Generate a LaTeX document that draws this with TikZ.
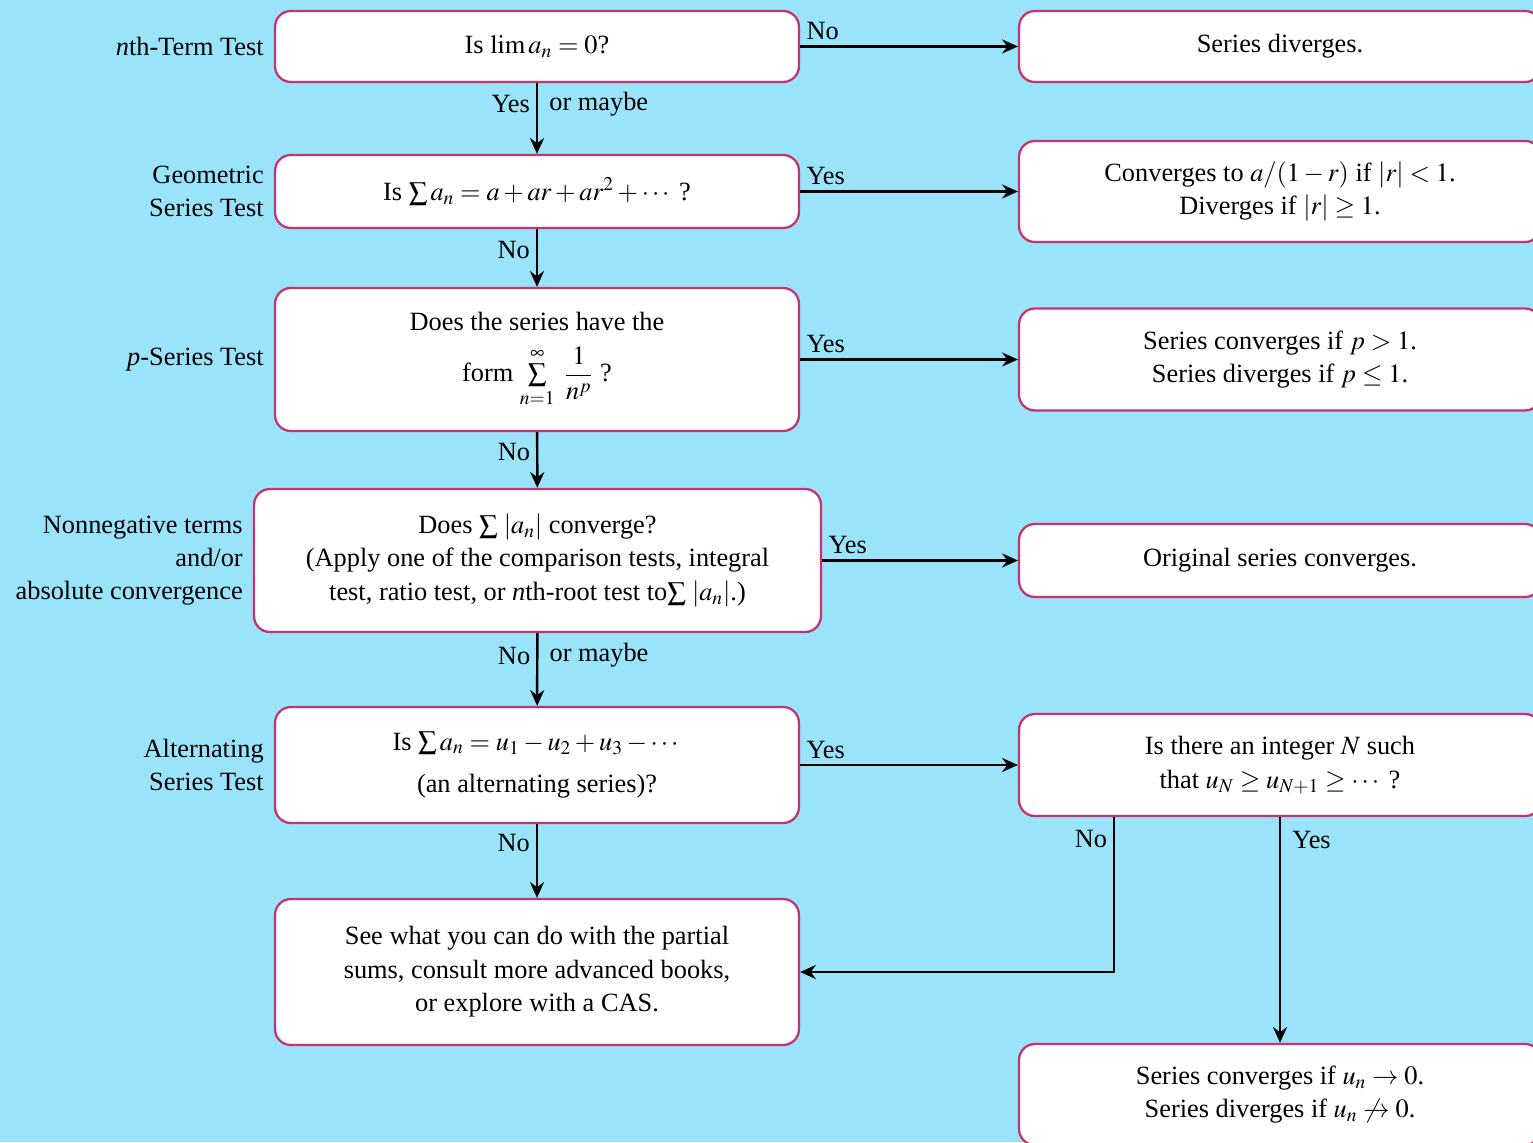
\documentclass[tikz,border=0pt]{standalone}
\usepackage{amsmath}
\usepackage{mathptmx}
\usepackage{fontspec}
\setmainfont{Liberation Serif}
\usetikzlibrary{arrows.meta}
\usetikzlibrary{positioning}
\definecolor{skyback}{HTML}{9AE4FB}
\definecolor{boxline}{HTML}{C8336E}

\begin{document}
\begin{tikzpicture}[x=0.02cm,y=-0.02cm,
	every node/.style={font=\fontsize{15}{19}\selectfont},
	test/.style={draw=boxline,line width=1.3pt,fill=white,rounded corners=9pt,align=center,inner sep=0pt},
	main/.style={test,minimum width=10.48cm},
	result/.style={test,minimum width=10.44cm},
	side/.style={align=right,left=0.08cm of #1},
	flow/.style={-{Stealth[length=9pt,width=8pt]},line width=1.4pt}]
\useasboundingbox (0,0) rectangle (1533,1142);
\fill[skyback] (0,0) rectangle (1533,1142);

% tests down the middle
\node[main,minimum height=1.42cm] (lim) at (537,46.5) {Is $\lim a_n = 0$?};
\node[main,minimum height=1.46cm] (geo) at (537,191.5) {Is $\sum a_n = a + ar + ar^2 + \cdots$ ?};
\node[main,minimum height=2.86cm] (pser) at (537,359.5) {Does the series have the\\[8pt]
	form $\sum\limits_{n=1}^{\infty}\ \dfrac{1}{n^p}$ ?};
\node[test,minimum width=11.34cm,minimum height=2.86cm] (abs) at (537.5,560.5) {Does $\sum\,|a_n|$ converge?\\
	(Apply one of the comparison tests, integral\\
	test, ratio test, or \textit{n}th-root test to$\sum\,|a_n|$.)};
\node[main,minimum height=2.32cm] (alt) at (537,765) {Is $\sum a_n = u_1 - u_2 + u_3 - \cdots$\\[5pt]
	(an alternating series)?};
\node[main,minimum height=2.92cm] (cas) at (537,972) {See what you can do with the partial\\
	sums, consult more advanced books,\\
	or explore with a CAS.};

% names of the tests
\node[side=lim] (limlab) {\textit{n}th-Term Test};
\node[side=geo] (geolab) {Geometric\\Series Test};
\node[side=pser] (pserlab) {\textit{p}-Series Test};
\node[side=abs] (abslab) {Nonnegative terms\\and/or\\absolute convergence};
\node[side=alt] (altlab) {Alternating\\Series Test};

% outcomes on the right
\node[result,minimum height=1.42cm] (div) at (1280,46.5) {Series diverges.};
\node[result,minimum height=2.02cm] (geores) at (1280,191.5) {Converges to $a/(1-r)$ if $|r|<1$.\\
	Diverges if $|r|\geq 1$.};
\node[result,minimum height=2.04cm] (pres) at (1280,359.5) {Series converges if $p>1$.\\
	Series diverges if $p\leq 1$.};
\node[result,minimum height=1.46cm] (absres) at (1280,560.5) {Original series converges.};
\node[result,minimum height=2.04cm] (mono) at (1280,765) {Is there an integer $N$ such\\
	that $u_N \geq u_{N+1} \geq \cdots$ ?};
\node[result,minimum height=2.02cm] (altres) at (1280,1094.5) {Series converges if $u_n \to 0$.\\
	Series diverges if $u_n \not\to 0$.};

\draw[flow] (lim) -- node[pos=0,anchor=south west,inner sep=3pt] {No} (div);
\draw[flow] (geo) -- node[pos=0,anchor=south west,inner sep=3pt] {Yes} (geores);
\draw[flow] (pser) -- node[pos=0,anchor=south west,inner sep=3pt] {Yes} (pres);
\draw[flow] (abs) -- node[pos=0,anchor=south west,inner sep=3pt] {Yes} (absres);
\draw[flow] (alt) -- node[pos=0,anchor=south west,inner sep=3pt] {Yes} (mono);

\draw[flow] (lim) -- node[pos=0.3,left] {Yes} node[pos=0.3,right=3pt] {or maybe} (geo);
\draw[flow] (geo) -- node[pos=0.37,left] {No} (pser);
\draw[flow] (pser) -- node[pos=0.36,left] {No} (abs);
\draw[flow] (abs) -- node[pos=0.31,left] {No} node[pos=0.31,right=3pt] {or maybe} (alt);
\draw[flow] (alt) -- node[pos=0.26,left] {No} (cas);

\draw[flow] ([xshift=-3.32cm]mono.south) |- node[pos=0.07,left] {No} (cas);
\draw[flow] (mono) -- node[pos=0.1,right=3pt] {Yes} (altres);
\end{tikzpicture}
\end{document}
